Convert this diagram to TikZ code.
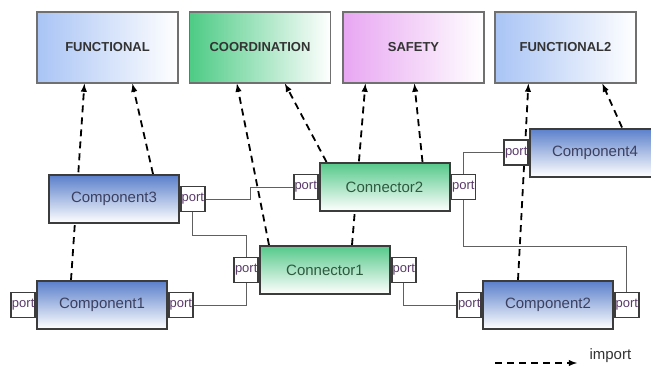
\documentclass[tikz,border=0pt]{standalone}
\usepackage{fontspec}
\setmainfont{Liberation Sans}
\usetikzlibrary{arrows}
\usetikzlibrary{positioning}
\usetikzlibrary{backgrounds}
\definecolor{FuncBlue}{HTML}{A9C4F5}
\definecolor{CoordGreen}{HTML}{4DCB85}
\definecolor{SafetyPink}{HTML}{E8A6F2}
\definecolor{CompBlue}{HTML}{5A7FCA}
\definecolor{ConnGreen}{HTML}{55C98A}
\definecolor{BoxGray}{HTML}{707070}
\definecolor{EdgeGray}{HTML}{3C3C3C}
\definecolor{WireGray}{HTML}{606060}
\definecolor{PortText}{HTML}{5A3A6A}
\definecolor{CompText}{HTML}{3C4060}
\definecolor{ConnText}{HTML}{2E5A40}
\definecolor{AspText}{HTML}{333333}

\begin{document}
\begin{tikzpicture}[x=1pt,y=-1pt,
  aspectbox/.style={draw=BoxGray,line width=1.2pt,minimum width=141pt,minimum height=71pt,
    inner sep=0pt,text=AspText,font=\fontsize{13}{15}\selectfont\bfseries},
  block/.style={draw=EdgeGray,line width=2pt,minimum width=130pt,minimum height=48pt,
    inner sep=0pt,font=\fontsize{15}{18}\selectfont},
  compbox/.style={block,top color=CompBlue,bottom color=white,text=CompText},
  connbox/.style={block,top color=ConnGreen,bottom color=white,text=ConnText},
  portbox/.style={draw=EdgeGray,line width=1.6pt,fill=white,minimum width=24pt,
    minimum height=25pt,inner sep=0pt,text=PortText,font=\fontsize{13}{13}\selectfont},
  wire/.style={draw=WireGray,line width=1pt},
  importarrow/.style={line width=1.8pt,dash pattern=on 7pt off 5pt,-latex}]
  \useasboundingbox (0,0) rectangle (651,369);
  \clip (0,0) rectangle (651,369);

  % aspects
  \foreach \nm/\lab/\col/\x in {func/FUNCTIONAL/FuncBlue/107.5,coord/COORDINATION/CoordGreen/260,
    safety/SAFETY/SafetyPink/413.5,func2/FUNCTIONAL2/FuncBlue/565.5}{%
    \node[aspectbox,left color=\col,right color=white] (\nm) at (\x,47.5) {\lab};
  }

  % components and connectors
  \node[compbox] (comp3) at (114,199) {Component3};
  \node[connbox] (conn2) at (384.5,187) {Connector2};
  \node[compbox] (comp4) at (595,152.5) {Component4};
  \node[connbox] (conn1) at (325,270) {Connector1};
  \node[compbox] (comp1) at (102,305) {Component1};
  \node[compbox] (comp2) at (548,305) {Component2};

  % ports
  \node[portbox,right=0pt of comp3] (comp3p) {port};
  \node[portbox,left=0pt of conn2] (conn2pl) {port};
  \node[portbox,right=0pt of conn2] (conn2pr) {port};
  \node[portbox,left=0pt of comp4] (comp4p) {port};
  \node[portbox,left=0pt of conn1] (conn1pl) {port};
  \node[portbox,right=0pt of conn1] (conn1pr) {port};
  \node[portbox,left=0pt of comp1] (comp1pl) {port};
  \node[portbox,right=0pt of comp1] (comp1pr) {port};
  \node[portbox,left=0pt of comp2] (comp2pl) {port};
  \node[portbox,right=0pt of comp2] (comp2pr) {port};

  % wires
  \draw[wire] (comp3p.east) -- ++(45,0) |- (conn2pl.west);
  \draw[wire] (comp3p.south) -- ++(0,23) -| (conn1pl.north);
  \draw[wire] (comp1pr.east) -| (conn1pl.south);
  \draw[wire] (conn1pr.south) |- (comp2pl.west);
  \draw[wire] (conn2pr.north) |- (comp4p.west);
  \draw[wire] (conn2pr.south) -- ++(0,46) -| (comp2pr.north);

  % imports
  \begin{scope}[on background layer]
    \draw[importarrow] ([xshift=35pt]comp1.north west) -- ([xshift=48pt]func.south west);
    \draw[importarrow] ([xshift=105pt]comp3.north west) -- ([xshift=96pt]func.south west);
    \draw[importarrow] ([xshift=10pt]conn1.north west) -- ([xshift=48pt]coord.south west);
    \draw[importarrow] ([xshift=8pt]conn2.north west) -- ([xshift=96pt]coord.south west);
    \draw[importarrow] ([xshift=93pt]conn1.north west) -- ([xshift=23pt]safety.south west);
    \draw[importarrow] ([xshift=104pt]conn2.north west) -- ([xshift=72pt]safety.south west);
    \draw[importarrow] ([xshift=36pt]comp2.north west) -- ([xshift=34pt]func2.south west);
    \draw[importarrow] ([xshift=93pt]comp4.north west) -- ([xshift=108pt]func2.south west);
  \end{scope}

  % legend
  \coordinate (legstart) at (495,363);
  \coordinate (legstop) at (577,363);
  \node[anchor=west,text=AspText,font=\fontsize{15}{18}\selectfont] (legtxt) at (586,356) {import};
  \draw[importarrow] (legstart) -- (legstop);
\end{tikzpicture}
\end{document}
